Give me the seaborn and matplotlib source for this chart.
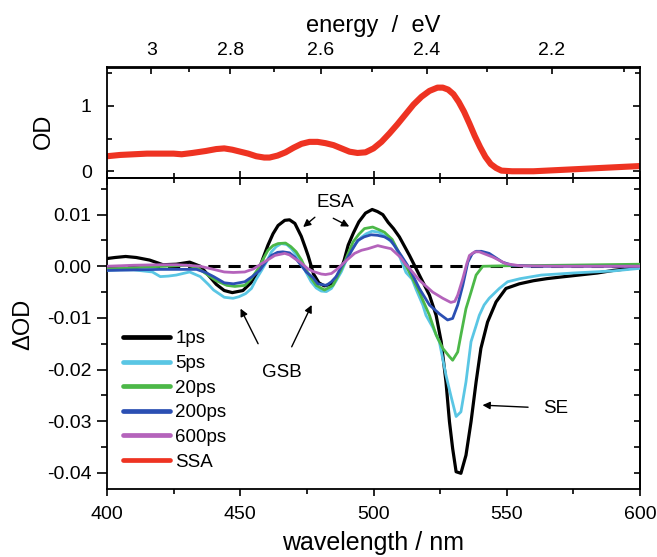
import numpy as np
import pandas as pd
import matplotlib
matplotlib.use("Agg")
import matplotlib.pyplot as plt
import seaborn as sns
from matplotlib.ticker import FixedLocator, MultipleLocator, FormatStrFormatter

# ---------------- data ----------------
wl_1ps = [400, 403, 407, 411, 416, 421, 426, 431, 435, 438.5, 441, 444, 447, 451, 454, 456.7,
          458.5, 460.4, 462.3, 464.2, 466.7, 468.5, 470.5, 472.9, 474.5, 475.5, 477.5, 479.5,
          481.5, 484, 486, 487.5, 489, 490.5, 492.5, 494.5, 497, 499.5, 501.5, 503.5, 505.5,
          507.5, 509.7, 513.5, 517.2, 521, 523.5, 525.4, 527.2, 528.5, 529.7, 531, 532.8,
          534.7, 536.6, 538.5, 540.3, 542.8, 546, 549.7, 554.7, 560, 565, 570, 577, 584, 590,
          595, 600]
od_1ps = [0.0015, 0.0017, 0.0019, 0.0017, 0.0012, 0.0003, 0.0004, 0.0008, 0.0000, -0.0020,
          -0.0035, -0.0047, -0.0051, -0.0047, -0.0032, -0.0011, 0.0015, 0.0041, 0.0063, 0.0079,
          0.0089, 0.0090, 0.0083, 0.0058, 0.0035, 0.0020, -0.0015, -0.0032, -0.0038, -0.0035,
          -0.0022, -0.0010, 0.0012, 0.0041, 0.0065, 0.0086, 0.0103, 0.0110, 0.0106, 0.0100,
          0.0085, 0.0073, 0.0057, 0.0021, -0.0017, -0.0056, -0.0095, -0.0146, -0.0224, -0.0301,
          -0.0353, -0.0398, -0.0401, -0.0366, -0.0301, -0.0224, -0.0159, -0.0108, -0.0069,
          -0.0043, -0.0034, -0.0028, -0.0024, -0.0021, -0.0017, -0.0013, -0.0008, -0.0005,
          -0.0001]

wl_5ps = [400, 405, 410, 417, 420, 423, 426, 431, 435, 438, 440, 444, 447.3, 449.5, 452, 454.2,
          456, 458, 460, 461.7, 463.5, 465.4, 467.5, 469.2, 471, 472.9, 474.5, 476.6, 478.5,
          480.4, 482.3, 484.2, 486, 487.9, 489.8, 491.6, 493.5, 495.4, 497.3, 499.5, 502, 504.5,
          507.9, 509.7, 512.2, 514.5, 516, 518.5, 519.7, 522.2, 524.7, 527.2, 529, 531, 532.8,
          534.7, 536.6, 538.5, 539.7, 541.5, 543.4, 547.2, 550.3, 555, 563, 575, 590, 600]
od_5ps = [-0.0008, -0.0007, -0.0007, -0.0011, -0.0020, -0.0019, -0.0017, -0.0011, -0.0020,
          -0.0035, -0.0046, -0.0060, -0.0062, -0.0059, -0.0053, -0.0043, -0.0025, -0.0008,
          0.0010, 0.0028, 0.0038, 0.0044, 0.0042, 0.0034, 0.0022, 0.0008, -0.0010, -0.0030,
          -0.0042, -0.0048, -0.0049, -0.0043, -0.0028, -0.0011, 0.0012, 0.0031, 0.0045, 0.0056,
          0.0063, 0.0068, 0.0066, 0.0058, 0.0041, 0.0020, -0.0012, -0.0025, -0.0045, -0.0075,
          -0.0095, -0.0118, -0.0146, -0.0211, -0.0250, -0.0291, -0.0282, -0.0224, -0.0146,
          -0.0115, -0.0095, -0.0075, -0.0062, -0.0043, -0.0030, -0.0024, -0.0017, -0.0013,
          -0.0009, -0.0004]

wl_20ps = [400, 410, 416, 422, 430, 434, 437, 441, 445, 448, 451.7, 454, 456.7, 458.5, 460.4,
           462.3, 464.2, 467, 469, 471, 473, 474.8, 476.5, 478.5, 481.6, 484.8, 486.5, 488.5,
           490.5, 492.3, 494.5, 496.6, 499.7, 502, 504.1, 507, 509.7, 513.5, 517.2, 521, 523.5,
           526, 528.5, 529.7, 531.6, 532.8, 534.7, 536.6, 538.5, 541, 550, 570, 585, 600]
od_20ps = [-0.0005, -0.0003, -0.0001, 0.0000, 0.0002, -0.0003, -0.0014, -0.0028, -0.0037,
           -0.0039, -0.0037, -0.0025, -0.0005, 0.0013, 0.0031, 0.0040, 0.0044, 0.0045, 0.0038,
           0.0028, 0.0012, -0.0008, -0.0022, -0.0037, -0.0046, -0.0037, -0.0020, 0.0000,
           0.0025, 0.0047, 0.0062, 0.0073, 0.0076, 0.0071, 0.0066, 0.0052, 0.0025, -0.0012,
           -0.0050, -0.0095, -0.0133, -0.0159, -0.0175, -0.0182, -0.0166, -0.0133, -0.0082,
           -0.0050, -0.0017, 0.0000, 0.0001, 0.0002, 0.0003, 0.0004]

wl_200ps = [400, 410, 420, 433.6, 437, 440, 444, 447.4, 451.7, 454.5, 457.3, 459.5, 461.7, 464,
            466, 468.5, 470.4, 472.5, 474.8, 477.3, 479.1, 482.3, 484.2, 486, 488, 489.8, 492,
            494.1, 496.5, 499.1, 501.5, 504.1, 506.5, 508.5, 510.5, 513.5, 515, 517.2, 521,
            524.7, 527.8, 529.7, 531.6, 533.5, 535.4, 537, 538.5, 540.5, 543.4, 548.4, 552,
            560, 580, 600]
od_200ps = [-0.0008, -0.0007, -0.0006, -0.0006, -0.0012, -0.0020, -0.0032, -0.0034, -0.0030,
            -0.0020, -0.0008, 0.0008, 0.0021, 0.0027, 0.0028, 0.0026, 0.0018, 0.0004, -0.0011,
            -0.0022, -0.0034, -0.0037, -0.0030, -0.0020, 0.0000, 0.0012, 0.0032, 0.0050,
            0.0057, 0.0061, 0.0060, 0.0057, 0.0050, 0.0035, 0.0020, -0.0004, -0.0020, -0.0043,
            -0.0075, -0.0092, -0.0104, -0.0101, -0.0075, -0.0037, 0.0008, 0.0024, 0.0029,
            0.0029, 0.0025, 0.0008, 0.0002, 0.0000, 0.0000, 0.0000]

wl_600ps = [400, 410, 420, 426, 430, 435, 440, 444, 447.4, 451.7, 455, 458, 460.5, 463, 466.7,
            468.5, 470.4, 472.5, 475.4, 477.3, 480.4, 482, 484.2, 486, 487.9, 490, 492.9, 495.5,
            497.9, 501.6, 504, 506.6, 510, 512, 513.5, 517.2, 522.2, 526, 529, 530.5, 531.6,
            533.5, 535, 536, 538, 539.7, 544.7, 549.7, 555, 570, 600]
od_600ps = [0.0000, 0.0002, 0.0003, 0.0003, 0.0002, 0.0000, -0.0006, -0.0011, -0.0012, -0.0011,
            -0.0005, 0.0005, 0.0013, 0.0021, 0.0025, 0.0022, 0.0015, 0.0008, -0.0005, -0.0010,
            -0.0015, -0.0016, -0.0014, -0.0007, 0.0002, 0.0012, 0.0025, 0.0031, 0.0034, 0.0040,
            0.0037, 0.0034, 0.0018, 0.0004, -0.0004, -0.0027, -0.0050, -0.0062, -0.0070,
            -0.0068, -0.0056, -0.0024, 0.0005, 0.0021, 0.0028, 0.0028, 0.0018, 0.0005, 0.0001,
            0.0000, 0.0000]

wl_ssa = [400, 405, 410, 415, 420, 425, 428, 432, 437, 441, 444, 447, 450, 453, 456, 459, 461,
          464, 467, 470, 473, 476, 479, 482, 485, 488, 491, 494, 497, 500, 503, 506, 509, 512,
          515, 518, 521, 524, 526, 528, 530, 532, 534, 536, 538, 540, 542, 544, 546, 548, 552,
          560, 570, 580, 590, 600]
od_ssa = [0.23, 0.25, 0.26, 0.27, 0.27, 0.27, 0.26, 0.28, 0.31, 0.34, 0.35, 0.33, 0.30, 0.27,
          0.23, 0.21, 0.21, 0.24, 0.29, 0.36, 0.42, 0.45, 0.45, 0.43, 0.40, 0.35, 0.30, 0.28,
          0.29, 0.35, 0.45, 0.58, 0.72, 0.87, 1.02, 1.14, 1.23, 1.28, 1.28, 1.25, 1.18, 1.06,
          0.91, 0.73, 0.54, 0.37, 0.22, 0.11, 0.05, 0.01, 0.00, 0.00, 0.02, 0.04, 0.06, 0.08]

series_labels = ["1ps", "5ps", "20ps", "200ps", "600ps"]
series_wl = [wl_1ps, wl_5ps, wl_20ps, wl_200ps, wl_600ps]
series_od = [od_1ps, od_5ps, od_20ps, od_200ps, od_600ps]
series_colors = ["#000000", "#5ac6e4", "#4cb848", "#2b4fb3", "#b463bb"]
ssa_color = "#ee3322"

energy_major = [3.0, 2.8, 2.6, 2.4, 2.2]
energy_minor = [2.9, 2.7, 2.5, 2.3, 2.1]
energy_labels = ["3", "2.8", "2.6", "2.4", "2.2"]

# ---------------- style ----------------
sns.set_style("ticks")
plt.rcParams["font.family"] = ["Liberation Sans", "DejaVu Sans"]
plt.rcParams["axes.unicode_minus"] = False
plt.rcParams["axes.edgecolor"] = "black"
plt.rcParams["xtick.color"] = "black"
plt.rcParams["ytick.color"] = "black"
plt.rcParams["text.color"] = "black"
plt.rcParams["axes.labelcolor"] = "black"

TICK_FS = 14
LAB_FS = 17
XLAB_FS = 18
ANN_FS = 13.5

fig = plt.figure(figsize=(6.57, 5.57), dpi=100)
W, H = 657.0, 557.0
ax1 = fig.add_axes([107 / W, 1 - 178 / H, 533 / W, 110.5 / H])
ax2 = fig.add_axes([107 / W, 1 - 489.3 / H, 533 / W, 311.3 / H])
for ax in (ax1, ax2):
    ax.set_facecolor("white")
    for sp in ax.spines.values():
        sp.set_linewidth(1.3)
        sp.set_color("black")

# ---------------- upper panel: steady-state absorption ----------------
sns.lineplot(x=wl_ssa, y=od_ssa, ax=ax1, color=ssa_color, lw=4.4, label="SSA",
             legend=False, estimator=None)
ax1.set_xlim(400, 600)
ax1.set_ylim(-0.103, 1.588)
ax1.set_xlabel("")
ax1.set_ylabel("OD", fontsize=LAB_FS)
ax1.yaxis.set_label_coords(-0.097, 0.42)
ax1.yaxis.set_major_locator(FixedLocator([0, 1]))
ax1.yaxis.set_minor_locator(FixedLocator([0.5, 1.5]))
ax1.yaxis.set_major_formatter(FormatStrFormatter("%g"))
ax1.xaxis.set_major_locator(MultipleLocator(50))
ax1.xaxis.set_minor_locator(MultipleLocator(25))
ax1.tick_params(axis="both", which="both", direction="in", top=False, right=True,
                bottom=True, left=True, labelbottom=False, labelsize=TICK_FS, width=1.2)
ax1.tick_params(axis="both", which="major", length=5, pad=11)
ax1.tick_params(axis="both", which="minor", length=3.5)

OFFSET_NM = 3.35


def nm_to_ev(x):
    x = np.asarray(x, dtype=float)
    return 1240.0 / np.where(np.abs(x - OFFSET_NM) < 1e-9, 1e-9, x - OFFSET_NM)


def ev_to_nm(e):
    e = np.asarray(e, dtype=float)
    return 1240.0 / np.where(np.abs(e) < 1e-9, 1e-9, e) + OFFSET_NM


top = ax1.secondary_xaxis("top", functions=(nm_to_ev, ev_to_nm))
top.xaxis.set_major_locator(FixedLocator(energy_major))
top.xaxis.set_minor_locator(FixedLocator(energy_minor))
top.set_xticklabels(energy_labels)
top.tick_params(axis="x", which="both", direction="in", labelsize=TICK_FS, width=1.2)
top.tick_params(axis="x", which="major", length=5, pad=6)
top.tick_params(axis="x", which="minor", length=3.5)
top.spines["top"].set_linewidth(1.3)
top.set_xlabel("energy  /  eV", fontsize=LAB_FS, labelpad=7)

# ---------------- lower panel: transient spectra ----------------
ax2.axhline(0, color="black", lw=2.2, ls=(0, (4, 2.6)), zorder=1)
for wl, od, lab, col in zip(series_wl, series_od, series_labels, series_colors):
    sns.lineplot(x=wl, y=od, ax=ax2, color=col, lw=2.3 if lab == "1ps" else 2.0,
                 label=lab, legend=False, estimator=None, zorder=3)
ax2.set_xlim(400, 600)
ax2.set_ylim(-0.0432, 0.0171)
ax2.set_xlabel("wavelength / nm", fontsize=XLAB_FS, labelpad=6)
ax2.set_ylabel("ΔOD", fontsize=LAB_FS)
ax2.yaxis.set_label_coords(-0.136, 0.53)
ax2.xaxis.set_major_locator(MultipleLocator(50))
ax2.xaxis.set_minor_locator(MultipleLocator(25))
ax2.yaxis.set_major_locator(MultipleLocator(0.01))
ax2.yaxis.set_minor_locator(MultipleLocator(0.005))
ax2.yaxis.set_major_formatter(FormatStrFormatter("%.2f"))
ax2.tick_params(axis="both", which="both", direction="out", top=False, right=False,
                labelsize=TICK_FS, width=1.2)
ax2.tick_params(axis="y", which="major", length=7, pad=4)
ax2.tick_params(axis="y", which="minor", length=4.5)
ax2.tick_params(axis="x", which="major", length=5, pad=7)
ax2.tick_params(axis="x", which="minor", length=3.5)

sec_top = ax2.secondary_xaxis("top")
sec_top.xaxis.set_major_locator(MultipleLocator(50))
sec_top.xaxis.set_minor_locator(MultipleLocator(25))
sec_top.tick_params(axis="x", which="both", direction="in", labeltop=False, width=1.2)
sec_top.tick_params(axis="x", which="major", length=5)
sec_top.tick_params(axis="x", which="minor", length=3.5)
sec_right = ax2.secondary_yaxis("right")
sec_right.yaxis.set_major_locator(MultipleLocator(0.01))
sec_right.yaxis.set_minor_locator(MultipleLocator(0.005))
sec_right.tick_params(axis="y", which="both", direction="in", labelright=False, width=1.2,
                      length=4.5)
for s in (sec_top, sec_right):
    for sp in s.spines.values():
        sp.set_linewidth(1.3)

# legend (lower panel, includes SSA from upper panel)
h2, l2 = ax2.get_legend_handles_labels()
h1, l1 = ax1.get_legend_handles_labels()
leg = ax2.legend(h2 + h1, l2 + l1, loc="lower left", bbox_to_anchor=(0.03, 0.06),
                 frameon=False, fontsize=ANN_FS, handlelength=2.5, handletextpad=0.3,
                 labelspacing=0.40, borderpad=0, borderaxespad=0)
for ln in leg.get_lines():
    ln.set_linewidth(3.4)

# annotations
arrow = dict(arrowstyle="-|>", color="black", lw=1.0, mutation_scale=11, shrinkA=0, shrinkB=0)
ax2.text(485.5, 0.0124, "ESA", fontsize=ANN_FS, ha="center", va="center")
ax2.annotate("", xy=(473.6, 0.0076), xytext=(478.0, 0.0095), arrowprops=arrow)
ax2.annotate("", xy=(490.9, 0.0077), xytext=(484.9, 0.0093), arrowprops=arrow)
ax2.text(465.5, -0.0206, "GSB", fontsize=ANN_FS, ha="center", va="center")
ax2.annotate("", xy=(450.1, -0.0082), xytext=(456.7, -0.0150), arrowprops=arrow)
ax2.annotate("", xy=(476.8, -0.0075), xytext=(469.3, -0.0156), arrowprops=arrow)
ax2.text(568.4, -0.0275, "SE", fontsize=ANN_FS, ha="center", va="center")
ax2.annotate("", xy=(540.9, -0.0269), xytext=(558.0, -0.0273), arrowprops=arrow)

fig.savefig("out.png", dpi=100, facecolor="white")
